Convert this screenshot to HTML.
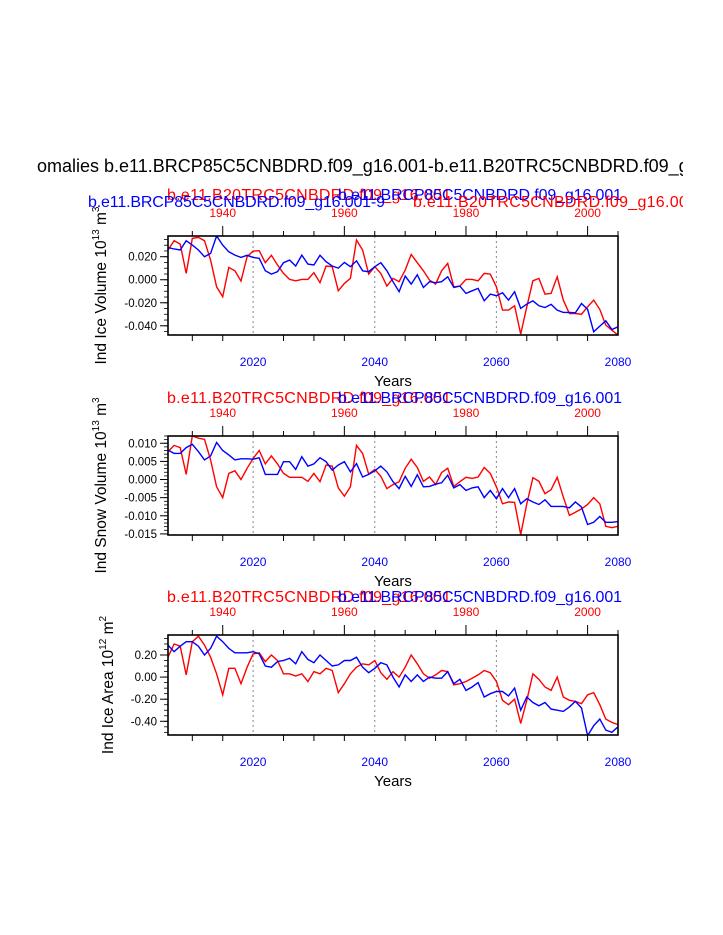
<!DOCTYPE html>
<html><head><meta charset="utf-8"><style>
html,body{margin:0;padding:0;background:#fff;}
svg{display:block;font-family:"Liberation Sans",Arial,sans-serif;}
</style></head><body>
<svg id="chart" width="723" height="935" viewBox="0 0 723 935" xmlns="http://www.w3.org/2000/svg">
<defs><clipPath id="clipT"><rect x="37" y="140" width="646" height="80"/></clipPath></defs>
<g clip-path="url(#clipT)">
<text x="37" y="172" font-size="18" fill="#000">omalies b.e11.BRCP85C5CNBDRD.f09_g16.001-b.e11.B20TRC5CNBDRD.f09_g16.001</text>
<text x="167" y="200" font-size="16" fill="#f00" textLength="284">b.e11.B20TRC5CNBDRD.f09_g16.001</text>
<text x="338" y="200" font-size="16" fill="#00f" textLength="284">b.e11.BRCP85C5CNBDRD.f09_g16.001</text>
<text x="88" y="207" font-size="16" fill="#00f" textLength="297">b.e11.BRCP85C5CNBDRD.f09_g16.001-9</text>
<text x="413" y="207" font-size="16" fill="#f00" textLength="284">b.e11.B20TRC5CNBDRD.f09_g16.001</text>
</g>
<g id="panels"></g>
</svg>
<script>
const years = []; for (let y = 2006; y <= 2080; y++) years.push(y);
const bottomTicks = [2020, 2040, 2060, 2080];
const topTicks = [1940, 1960, 1980, 2000];
const iceVolBlue = [.028,.0267,.0258,.0339,.0301,.0258,.020,.0229,.038,.0301,.0243,.0214,.0194,.0212,.0194,.0186,.0078,.0049,.007,.0148,.0171,.0119,.0214,.0136,.0128,.0212,.0157,.0119,.0101,.0151,.0113,.0165,.0078,.007,.0113,.0148,.0078,-.0017,-.0104,.0032,-.0038,.0043,-.0067,-.0017,-.0026,-.0017,.0026,-.0067,-.0055,-.0119,-.0096,-.0075,-.0183,-.0125,-.0139,-.0113,-.0177,-.0104,-.0249,-.0212,-.0183,-.0226,-.0241,-.0214,-.0264,-.0284,-.0284,-.0287,-.0206,-.0258,-.0452,-.0403,-.0357,-.0432,-.0409];
const iceVolRed = [.0258,.0339,.0310,.0055,.0359,.0368,.0339,.0171,-.0061,-.0148,.0107,.0078,-.0012,.0200,.0249,.0252,.0148,.0212,.0128,.0055,.0003,-.0009,.0003,.0003,.0061,-.0026,.0119,.0113,-.0096,-.0032,.0012,.0345,.0258,.0049,.0113,.0055,-.0055,.0012,-.0017,.0084,.0220,.0148,.0078,-.0003,-.0038,.0078,.0142,-.0061,-.0055,.0003,.0003,-.0009,.0055,.0049,-.0061,-.0264,-.0264,-.0226,-.0472,-.0235,-.0009,.0012,-.0125,-.0119,.0026,-.0177,-.0293,-.0293,-.0299,-.0235,-.0177,-.0258,-.0394,-.0438,-.0481];
const snowBlue = [8.1,7.2,7.2,8.8,9.7,7.7,5.4,6.5,10.2,8.0,6.8,5.4,5.7,5.7,5.6,6.0,1.4,1.4,1.4,4.9,4.9,2.8,6.3,3.7,4.3,6.0,4.9,2.6,4.0,4.9,2.1,4.4,0.7,1.4,2.4,3.7,2.1,-0.6,-2.5,0.9,-1.9,1.3,-2.0,-1.9,-1.3,-0.9,1.2,-2.3,-1.4,-3.0,-2.3,-2.0,-5.0,-3.0,-5.3,-2.5,-5.0,-2.5,-6.7,-5.3,-6.2,-6.9,-5.6,-7.4,-7.4,-7.4,-7.8,-6.2,-7.6,-12.4,-11.8,-10.2,-11.8,-11.8,-11.6];
const snowRed = [7.7,9.4,8.8,1.4,12.0,11.4,11.1,5.4,-2.0,-5.0,1.7,2.4,0,3.1,5.8,8.0,4.3,6.5,4.3,1.7,0.6,0.6,0.6,-0.5,1.7,-0.6,4.0,3.7,-2.3,-4.6,-2.0,9.4,7.2,1.5,2.8,0.9,-2.5,-1.4,-0.6,3.1,5.6,3.3,-0.5,0.7,-1.4,1.9,3.1,-1.9,-0.6,0.6,0.3,0.7,3.3,1.7,-2.0,-6.7,-6.2,-6.3,-15.2,-6.7,0.5,-0.5,-3.9,-2.8,0.6,-4.8,-9.9,-9.0,-8.1,-6.9,-5.0,-6.7,-12.9,-13.3,-12.9];
const areaBlue = [29,23,28,32,32,28,20,26,37,32,26,22,22,22,23,21,10,9,14,15,17,12,23,16,13,20,15,10,11,15,15,18,9,4,8,13,11,0,-9,2,-4,2,-4,0,-1,-1,5,-6,-2,-12,-9,-5,-18,-15,-13,-13,-17,-10,-30,-18,-23,-26,-23,-29,-30,-31,-27,-22,-28,-53,-44,-38,-48,-50,-45];
const areaRed = [18,30,28,2,32,37,29,18,3,-16,8,8,-6,9,21,22,14,20,15,3,3,1,3,-4,5,3,8,6,-14,-6,3,9,12,11,15,4,-2,5,0,9,20,12,3,-1,2,6,5,-7,-6,-4,-1,2,6,4,-4,-21,-25,-20,-42,-21,3,-2,-9,-12,0,-18,-21,-22,-24,-16,-14,-25,-38,-41,-43];
const volTicks = ["0.020","0.000","-0.020","-0.040"];
const snowTicks = ["0.010","0.005","0.000","-0.005","-0.010","-0.015"];
const areaTicks = ["0.20","0.00","-0.20","-0.40"];

const NS = "http://www.w3.org/2000/svg";
const root = document.getElementById('panels');
function mk(tag, attrs, parent, text){const e=document.createElementNS(NS,tag);for(const k in attrs)e.setAttribute(k,attrs[k]);if(text!==undefined)e.textContent=text;(parent||root).appendChild(e);return e;}
const X0=168,X1=618;
const xB = y => X0 + (y-2006)/(2080-2006)*(X1-X0);
const xT = y => X0 + (y-1931)/(2005-1931)*(X1-X0);

function panel(cfg){
  const g=mk('g',{});
  
  
  const yS = v => cfg.top + (cfg.ymax - v)/(cfg.ymax-cfg.ymin)*(cfg.bot-cfg.top);
  [2020,2040,2060].forEach(yr=>{
    const l=mk('line',{x1:xB(yr),x2:xB(yr),y1:cfg.top,y2:cfg.bot,stroke:'#888','stroke-width':1,'stroke-dasharray':'2,3'},g);
    
    
  });
  for(let v=Math.ceil(cfg.ymin/cfg.minor)*cfg.minor; v<=cfg.ymax+1e-9; v+=cfg.minor){
    mk('line',{x1:X0-4,x2:X0,y1:yS(v),y2:yS(v),stroke:'#000','stroke-width':0.8},g);
  }
  cfg.ticks.forEach(t=>{
    const v=parseFloat(t), y=yS(v);
    mk('line',{x1:X0-8,x2:X0,y1:y,y2:y,stroke:'#000','stroke-width':1},g);
    const tx=mk('text',{x:X0-11,y:y+4,'font-size':11.5,'text-anchor':'end',fill:'#000'},g,t);
    
    
  });
  for(let yr=1935; yr<=2005; yr+=5){
    const major = yr%20===0;
    mk('line',{x1:xT(yr),x2:xT(yr),y1:cfg.top-(major?10:5),y2:cfg.top,stroke:'#000','stroke-width':1},g);
  }
  topTicks.forEach(yr=>{
    const tx=mk('text',{x:xT(yr),y:cfg.top-19,'font-size':12,'text-anchor':'middle',fill:'#f00'},g,String(yr));
    
    
  });
  for(let yr=2010; yr<=2080; yr+=5){
    const major = yr%20===0;
    mk('line',{x1:xB(yr),x2:xB(yr),y1:cfg.bot,y2:cfg.bot+(major?0:6),stroke:'#000','stroke-width':1},g);
  }
  bottomTicks.forEach(yr=>{
    const tx=mk('text',{x:xB(yr),y:cfg.bot+31,'font-size':12,'text-anchor':'middle',fill:'#00f'},g,String(yr));
    
    
  });
  const xt=mk('text',{x:393,y:cfg.bot+51,'font-size':15,'text-anchor':'middle',fill:'#000'},g,'Years');
  
  
  const yl=mk('text',{x:0,y:0,'font-size':15.5,'text-anchor':'middle',fill:'#000',transform:`translate(${cfg.ylx},${(cfg.top+cfg.bot)/2}) rotate(-90)`},g);
  
  
  yl.textContent=cfg.ylabel+' 10';
  mk('tspan',{dy:-7,'font-size':10},yl,cfg.exp);
  mk('tspan',{dy:7,'font-size':15.5},yl,' m');
  mk('tspan',{dy:-7,'font-size':10},yl,cfg.unitExp);
  const clipId='c'+cfg.name;
  const cp=mk('clipPath',{id:clipId},g); mk('rect',{x:X0,y:cfg.top,width:X1-X0,height:cfg.bot-cfg.top},cp);
  [[cfg.red,'#f00','red-series'],[cfg.blue,'#00f','blue-series']].forEach(([arr,col,nm])=>{
    const d=arr.map((v,i)=>(i?'L':'M')+xB(years[i]).toFixed(1)+','+yS(v).toFixed(1)).join(' ');
    const p=mk('path',{d,fill:'none',stroke:col,'stroke-width':1.4,'clip-path':`url(#${clipId})`},g);
    
    
  });
  const b=mk('rect',{x:X0,y:cfg.top,width:X1-X0,height:cfg.bot-cfg.top,fill:'none',stroke:'#000','stroke-width':1.6},g);
  
  
  if(cfg.subs){
    const r=mk('text',{x:167,y:cfg.top-33,'font-size':16,fill:'#f00',textLength:284},g,'b.e11.B20TRC5CNBDRD.f09_g16.001');
    
    
    const bl=mk('text',{x:338,y:cfg.top-33,'font-size':16,fill:'#00f',textLength:284},g,'b.e11.BRCP85C5CNBDRD.f09_g16.001');
    
    
  }
}
panel({name:'ice-volume-panel',top:236,bot:335,ymin:-0.048,ymax:0.038,minor:0.005,ticks:volTicks,red:iceVolRed,blue:iceVolBlue,ylabel:'Ind Ice Volume',exp:'13',unitExp:'3',ylx:106,subs:false});
panel({name:'snow-volume-panel',top:436,bot:535,ymin:-0.0153,ymax:0.012,minor:0.001,ticks:snowTicks,red:snowRed.map(v=>v/1000),blue:snowBlue.map(v=>v/1000),ylabel:'Ind Snow Volume',exp:'13',unitExp:'3',ylx:106,subs:true});
panel({name:'ice-area-panel',top:635,bot:735,ymin:-0.524,ymax:0.381,minor:0.05,ticks:areaTicks,red:areaRed.map(v=>v/100),blue:areaBlue.map(v=>v/100),ylabel:'Ind Ice Area',exp:'12',unitExp:'2',ylx:113,subs:true});
</script>
</body></html>
